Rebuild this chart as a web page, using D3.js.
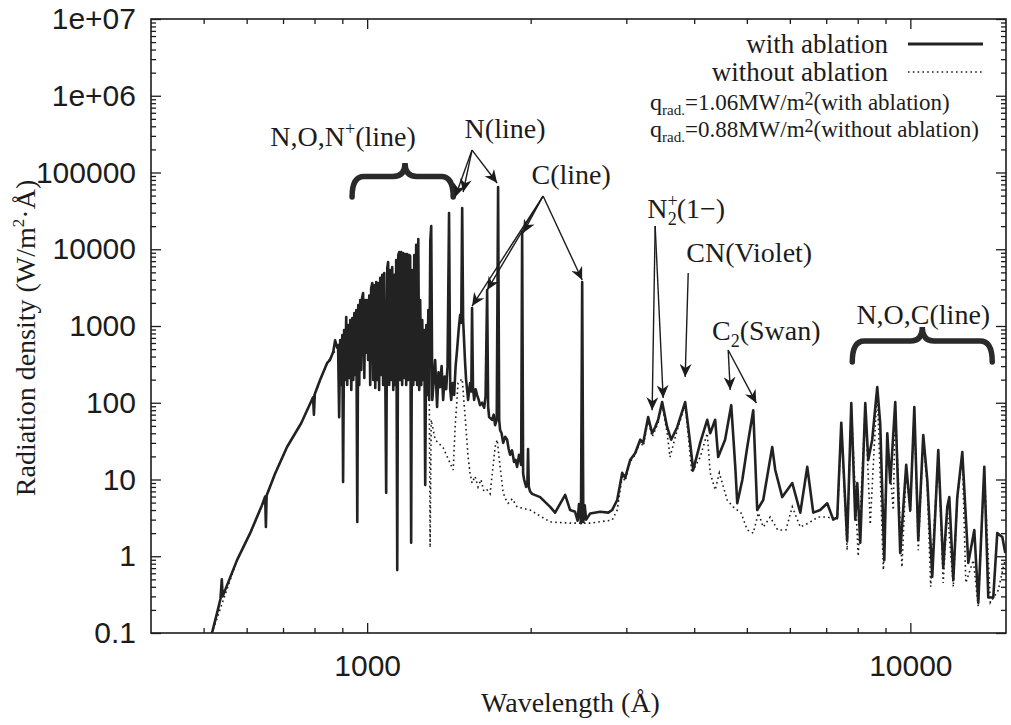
<!DOCTYPE html>
<html>
<head>
<meta charset="utf-8">
<script src="https://cdn.jsdelivr.net/npm/d3@7"></script>
<style>
  body { margin: 0; background: #fff; }
  svg { display: block; }
</style>
</head>
<body>
<svg id="chart" width="1011" height="725"></svg>
<script>
// [wavelength (Å), radiation density (W/m2·Å)]
const withAblation = [
  [490,0.045],[518,0.1],[531,0.2],[537,0.28],[540,0.5],[542,0.3],[576,0.89],[609,2.0],[640,4.6],[649,6.0],[651,2.4],[653,6.2],
  [677,12],[712,26.5],[756,54],[795,118],[798,70],[801,130],[819,198],[844,330],[854,360],[866,460],[873,650],[880,530],
  [884,565],[888,65],[892,658],[896,170],[900,764],[903,9.3],[907,887],[911,198],[915,1310],[919,170],[923,1030],[927,210],
  [931,1196],[935,147],[939,1270],[943,198],[947,1475],[951,230],[955,1610],[959,2.8],[963,1880],[967,170],[971,2180],[975,267],
  [979,2330],[983,2690],[988,210],[992,2180],[996,450],[1000,2180],[1004,361],[1009,2500],[1013,170],[1017,3100],[1022,3630],
  [1026,198],[1030,3400],[1035,156],[1039,3740],[1044,198],[1048,3630],[1052,147],[1057,4240],[1061,230],[1066,4630],[1070,170],
  [1075,4910],[1080,198],[1084,6.7],[1089,5700],[1093,6820],[1098,170],[1103,5370],[1107,198],[1112,5870],[1117,147],[1122,4630],
  [1126,170],[1131,7250],[1136,0.66],[1141,8410],[1146,9200],[1150,198],[1155,9200],[1160,170],[1165,8950],[1170,210],[1175,8670],
  [1180,170],[1185,8670],[1190,198],[1195,8410],[1200,8170],[1205,1.5],[1210,5370],[1216,170],[1221,8410],[1226,198],[1231,11400],
  [1236,170],[1242,13600],[1247,147],[1252,2180],[1258,170],[1263,1196],[1268,198],[1274,887],[1279,8.5],[1285,1030],[1290,126],
  [1296,1610],[1301,109],[1307,13000],[1312,20100],[1318,109],[1334,360],[1345,88],[1353,250],[1362,160],[1371,300],[1380,109],
  [1389,220],[1398,150],[1406,300],[1415,29600],[1422,150],[1428,109],[1437,180],[1446,126],[1455,300],[1464,490],[1474,900],
  [1483,1400],[1490,1100],[1496,34500],[1502,1200],[1508,650],[1514,350],[1521,200],[1534,109],[1547,181],[1555,140],[1560,1710],
  [1566,160],[1574,109],[1584,150],[1594,126],[1604,110],[1614,93],[1628,100],[1642,86],[1652,120],[1663,2940],[1670,90],[1677,65],
  [1698,60],[1710,70],[1720,51],[1732,60],[1742,64700],[1750,60],[1757,44],[1768,40],[1780,30],[1795,36],[1810,33],[1822,25],
  [1833,21],[1848,24],[1864,16.9],[1876,18],[1888,14.6],[1904,21],[1921,15.5],[1929,16800],[1937,12],[1945,10],[1962,8.0],
  [1972,8.5],[1978,25],[1984,8],[1995,7.0],[2012,6.5],[2082,5.9],[2172,4.4],[2218,3.7],[2315,6.3],[2364,4.0],[2414,3.8],
  [2440,2.9],[2455,4.8],[2475,2.7],[2488,3740],[2500,2.8],[2515,4.6],[2530,3.0],[2574,3.6],[2685,3.8],[2780,3.7],[2825,4.0],
  [2886,5.4],[2948,12.2],[2985,10.5],[3049,17.9],[3114,22],[3182,33],[3222,30],[3291,65],[3347,40],[3390,48],[3433,60],
  [3492,102],[3567,48],[3628,33],[3722,48],[3850,102],[3932,30],[3983,13.3],[4103,30],[4227,60],[4281,40],[4372,60],[4428,19.6],
  [4560,33],[4680,93],[4761,14.6],[4801,4.9],[4905,9.85],[5009,26.5],[5138,80],[5225,4.0],[5360,5.4],[5568,26.5],[5640,13.3],
  [5810,5.9],[6062,9.0],[6272,3.7],[6460,14.6],[6626,3.7],[6824,4.0],[7031,4.9],[7212,3.0],[7335,3.2],[7462,55],[7650,1.6],
  [7785,99],[7918,3.0],[7985,9],[8087,1.5],[8261,99],[8365,17.9],[8507,33],[8691,160],[8801,54],[8953,0.89],[9069,40],[9184,9],
  [9380,102],[9580,1.1],[9826,15.5],[9995,4.0],[10170,88],[10341,1.63],[10563,38],[10744,9.85],[10974,0.54],[11256,24.2],
  [11496,0.72],[11695,4.4],[11796,5.9],[11997,0.49],[12201,5.9],[12463,22.8],[12785,0.82],[13115,2.2],[13337,0.25],[13682,14.6],
  [13914,0.29],[14212,0.29],[14455,2.0],[14768,1.78],[14956,1.1]
];

const withoutAblation = [
  [490,0.045],[518,0.1],[576,0.89],[609,2.0],[649,5.6],[677,12],[712,26.5],[756,54],[795,115],[844,330],[880,520],[900,400],
  [950,350],[1000,400],[1050,300],[1100,260],[1150,280],[1200,250],[1250,220],[1290,200],[1301,160],[1306,1.3],[1312,60],
  [1334,33],[1380,26],[1440,13.3],[1452,48],[1470,181],[1496,205],[1515,65],[1534,19.6],[1547,12],[1560,9],[1580,11],[1600,8],
  [1620,10],[1640,7],[1663,7.3],[1684,6.5],[1720,26.5],[1735,33],[1757,14.6],[1780,6.7],[1800,5.5],[1818,4.9],[1850,5.6],
  [1888,4.4],[1995,4.0],[2172,2.8],[2364,2.7],[2574,2.7],[2825,2.96],[2886,4],[2948,11],[2985,9.5],[3049,17],[3114,21],[3182,31],
  [3222,27],[3291,60],[3347,36],[3390,44],[3433,55],[3492,95],[3567,40],[3610,19.6],[3722,44],[3850,95],[3960,12.2],[4103,19.6],
  [4227,40],[4281,12.2],[4372,7.3],[4450,12.2],[4600,5.4],[4720,4.4],[4880,3.66],[5009,2.2],[5138,2.0],[5250,3.66],[5360,2.4],
  [5520,3.24],[5700,2.2],[5900,2.2],[6062,4.4],[6272,2.4],[6490,2.7],[6760,3.24],[7031,3.24],[7335,3.0],[7462,50],[7650,1.2],
  [7785,90],[8017,1.0],[8261,90],[8436,2.6],[8691,150],[8920,0.66],[9069,36],[9302,4],[9380,95],[9650,0.72],[9826,14],
  [9995,3.66],[10170,80],[10341,1.2],[10563,34],[10744,8],[10900,0.4],[11256,22],[11496,0.45],[11695,4],[11997,0.4],[12201,5.4],
  [12463,21],[12650,0.45],[13060,0.89],[13337,0.22],[13682,13],[14036,0.25],[14516,0.36],[14830,0.72],[14956,0.9]
];

const xTickValues = [1000, 10000];
const xTickLabels = ["1000", "10000"];
const yTickValues = [0.1, 1, 10, 100, 1000, 10000, 100000, 1e6, 1e7];
const yTickLabels = ["0.1", "1", "10", "100", "1000", "10000", "100000", "1e+06", "1e+07"];

// annotation labels: parts are [text, kind] with kind "" | "sup" | "sub" | "under"
const labelTexts = [
  [["N,O,N", ""], ["+", "sup"], ["(line)", ""]],
  [["N(line)", ""]],
  [["C(line)", ""]],
  [["N", ""], ["+", "sup"], ["2", "under"], ["(1\u2212)", ""]],
  [["CN(Violet)", ""]],
  [["C", ""], ["2", "sub"], ["(Swan)", ""]],
  [["N,O,C(line)", ""]]
];
const labelAt = [[903, 2.2e5], [1794, 2.8e5], [2374, 7.1e4], [3867, 2.55e4], [5052, 6820], [5430, 658], [10563, 1060]];

// arrows: [from, to] in data units
const arrows = [
  [[1560, 1.96e5], [1452, 4.8e4]],
  [[1560, 1.96e5], [1502, 5.57e4]],
  [[1560, 1.96e5], [1735, 7.3e4]],
  [[2108, 4.94e4], [1560, 1820]],
  [[2108, 4.94e4], [1663, 2940]],
  [[2108, 4.94e4], [1937, 16300]],
  [[2108, 4.94e4], [2488, 3970]],
  [[3390, 20100], [3347, 80]],
  [[3390, 20100], [3507, 115]],
  [[3900, 4910], [3850, 217]],
  [[4620, 487], [4660, 147]],
  [[4620, 487], [5205, 99]]
];

// braces: [left λ, tip λ, right λ, base value, tip value]
const braces = [
  [938, 1174, 1440, 4.8e4, 1.33e5],
  [7818, 10520, 14150, 340, 970]
];

const width = 1011, height = 725;
const margin = { left: 151, top: 19, right: 5, bottom: 92 };
const innerWidth = width - margin.left - margin.right;
const innerHeight = height - margin.top - margin.bottom;
const ink = "#1c1c1c";
const serif = "'Liberation Serif', 'Times New Roman', serif";
const sans = "'Liberation Sans', Arial, sans-serif";

const svg = d3.select("#chart");
const g = svg.append("g").attr("transform", `translate(${margin.left}, ${margin.top})`);

const xScale = d3.scaleLog().domain([400, 15000]).range([0, innerWidth]);
const yScale = d3.scaleLog().domain([0.1, 1e7]).range([innerHeight, 0]);

const defs = svg.append("defs");
defs.append("clipPath").attr("id", "plot-clip")
    .append("rect").attr("width", innerWidth).attr("height", innerHeight);
defs.append("marker")
    .attr("id", "arrow")
    .attr("markerUnits", "userSpaceOnUse")
    .attr("markerWidth", 14).attr("markerHeight", 12)
    .attr("refX", 13).attr("refY", 6)
    .attr("orient", "auto")
  .append("path")
    .attr("d", "M0,0 L13,6 L0,12 L4,6 Z")
    .attr("fill", ink);

// axes (gnuplot style: inward ticks, mirrored on top/right)
const minorX = [500, 600, 700, 800, 900, 2000, 3000, 4000, 5000, 6000, 7000, 8000, 9000];
const minorY = [];
for (let e = -1; e < 7; e++) for (let m = 2; m < 10; m++) minorY.push(m * Math.pow(10, e));

const styleAxis = (sel, labelled) => {
  sel.select(".domain").remove();
  sel.selectAll(".tick line").attr("stroke", ink).attr("stroke-width", 1.3);
  if (labelled) {
    sel.selectAll("text").attr("fill", ink).attr("font-family", sans).attr("font-size", 30);
  } else {
    sel.selectAll("text").remove();
  }
};

g.append("g").attr("transform", `translate(0, ${innerHeight})`)
 .call(d3.axisBottom(xScale).tickValues(xTickValues).tickFormat((d, i) => xTickLabels[i]).tickSize(-10).tickPadding(22))
 .call(styleAxis, true);
g.append("g").attr("transform", `translate(0, ${innerHeight})`)
 .call(d3.axisBottom(xScale).tickValues(minorX).tickSize(-5))
 .call(styleAxis, false);
g.append("g")
 .call(d3.axisTop(xScale).tickValues(xTickValues).tickSize(-10))
 .call(styleAxis, false);
g.append("g")
 .call(d3.axisTop(xScale).tickValues(minorX).tickSize(-5))
 .call(styleAxis, false);
g.append("g")
 .call(d3.axisLeft(yScale).tickValues(yTickValues).tickFormat((d, i) => yTickLabels[i]).tickSize(-10).tickPadding(15))
 .call(styleAxis, true);
g.append("g")
 .call(d3.axisLeft(yScale).tickValues(minorY).tickSize(-5))
 .call(styleAxis, false);
g.append("g").attr("transform", `translate(${innerWidth}, 0)`)
 .call(d3.axisRight(yScale).tickValues(yTickValues).tickSize(-10))
 .call(styleAxis, false);
g.append("g").attr("transform", `translate(${innerWidth}, 0)`)
 .call(d3.axisRight(yScale).tickValues(minorY).tickSize(-5))
 .call(styleAxis, false);

g.append("rect")
 .attr("width", innerWidth).attr("height", innerHeight)
 .attr("fill", "none").attr("stroke", ink).attr("stroke-width", 1.6);

// spectra
const line = d3.line().x(d => xScale(d[0])).y(d => yScale(d[1]));
const curves = g.append("g").attr("clip-path", "url(#plot-clip)");
curves.append("path")
      .attr("d", line(withoutAblation))
      .attr("fill", "none").attr("stroke", ink)
      .attr("stroke-width", 1.6).attr("stroke-dasharray", "1.6,3.2");
curves.append("path")
      .attr("d", line(withAblation))
      .attr("fill", "none").attr("stroke", "#222")
      .attr("stroke-width", 2.6).attr("stroke-linejoin", "round");

// braces
braces.forEach(([l, m, r, base, tip]) => {
  const x1 = xScale(l), xm = xScale(m), x2 = xScale(r);
  const yb = yScale(base), yt = yScale(tip);
  const ya = yt + (yb - yt) * 0.4;
  const q = 12;
  g.append("path")
   .attr("d", `M${x1},${yb} Q${x1},${ya} ${x1 + q},${ya} L${xm - q},${ya} Q${xm},${ya} ${xm},${yt}
              Q${xm},${ya} ${xm + q},${ya} L${x2 - q},${ya} Q${x2},${ya} ${x2},${yb}`)
   .attr("fill", "none").attr("stroke", "#2a2a2a")
   .attr("stroke-width", 5.5).attr("stroke-linecap", "round");
});

// arrows
g.selectAll(".arrow").data(arrows).enter()
 .append("line")
   .attr("class", "arrow")
   .attr("x1", d => xScale(d[0][0])).attr("y1", d => yScale(d[0][1]))
   .attr("x2", d => xScale(d[1][0])).attr("y2", d => yScale(d[1][1]))
   .attr("stroke", ink).attr("stroke-width", 1.4)
   .attr("marker-end", "url(#arrow)");

// annotation labels
const rich = (sel, parts, big, small) => {
  let shift = 0;
  parts.forEach(([txt, kind]) => {
    const target = kind === "sup" ? -11 : (kind === "sub" || kind === "under") ? 7 : 0;
    const t = sel.append("tspan").text(txt)
                 .attr("dy", target - shift)
                 .attr("font-size", kind ? small : big);
    if (kind === "under") t.attr("dx", -small * 0.56);
    shift = target;
  });
};

labelTexts.forEach((parts, i) => {
  const t = g.append("text")
             .attr("x", xScale(labelAt[i][0])).attr("y", yScale(labelAt[i][1]))
             .attr("text-anchor", "middle")
             .attr("font-family", serif).attr("fill", ink);
  rich(t, parts, 28, 18);
});

// axis titles
svg.append("text")
   .attr("x", margin.left + innerWidth / 2 - 8).attr("y", 712)
   .attr("text-anchor", "middle")
   .attr("font-family", serif).attr("font-size", 28).attr("fill", ink)
   .text("Wavelength (\u00C5)");

const yTitle = svg.append("text")
   .attr("transform", "translate(35, 338) rotate(-90)")
   .attr("text-anchor", "middle")
   .attr("font-family", serif).attr("fill", ink);
rich(yTitle, [["Radiation density (W/m", ""], ["2", "sup"], ["\u00B7\u00C5)", ""]], 28, 17);

// legend
const legend = svg.append("g");
legend.append("text").attr("x", 888).attr("y", 53).attr("text-anchor", "end")
      .attr("font-family", serif).attr("font-size", 27).attr("fill", ink).text("with ablation");
legend.append("line").attr("x1", 908).attr("x2", 983).attr("y1", 44).attr("y2", 44)
      .attr("stroke", "#222").attr("stroke-width", 3);
legend.append("text").attr("x", 888).attr("y", 81).attr("text-anchor", "end")
      .attr("font-family", serif).attr("font-size", 27).attr("fill", ink).text("without ablation");
legend.append("line").attr("x1", 908).attr("x2", 983).attr("y1", 72).attr("y2", 72)
      .attr("stroke", ink).attr("stroke-width", 1.6).attr("stroke-dasharray", "1.6,3.2");

const qLines = [["=1.06MW/m", "(with ablation)"], ["=0.88MW/m", "(without ablation)"]];
qLines.forEach(([a, b], i) => {
  const t = legend.append("text").attr("x", 650).attr("y", 110 + i * 27)
                  .attr("font-family", serif).attr("fill", ink);
  t.append("tspan").attr("font-size", 24).text("q");
  t.append("tspan").attr("font-size", 15).attr("dy", 5).text("rad.");
  t.append("tspan").attr("font-size", 23).attr("dy", -5).text(a);
  t.append("tspan").attr("font-size", 18).attr("dy", -5).text("2");
  t.append("tspan").attr("font-size", 23).attr("dy", 5).text(b);
});
</script>
</body>
</html>
